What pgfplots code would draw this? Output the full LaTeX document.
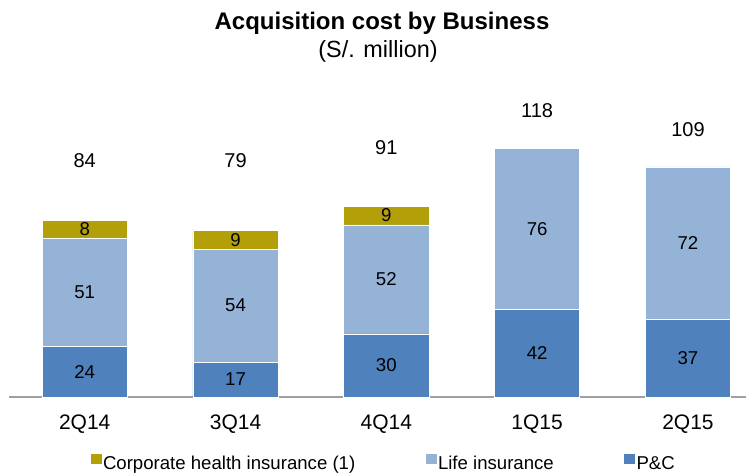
\documentclass[border=0pt]{standalone}
\usepackage{fontspec}
\setmainfont{Liberation Sans}
\usepackage{pgfplots}
\usepackage{pgfplotstable}
\pgfplotsset{compat=1.18}
\definecolor{pc}{RGB}{79,129,189}
\definecolor{life}{RGB}{149,179,215}
\definecolor{corp}{RGB}{179,160,8}
\pgfplotstableread{
x y
0 23.9
1 16.6
2 29.9
3 41.6
4 37.0
}\pcdata
\pgfplotstableread{
x y
0 51.4
1 53.6
2 51.7
3 76.4
4 72.2
}\lifedata
\pgfplotstableread{
x y
0 8.4
1 8.7
2 9.0
}\corpdata
\pgfplotsset{
  seglab/.style={
  nodes near coords={\pgfmathprintnumber[fixed,precision=0]{\pgfplotspointmeta}},
  point meta=explicit,
  every node near coord/.append style={anchor=center, font=\fontsize{18.6}{22}\selectfont},
}}
\begin{document}
\begin{tikzpicture}[x=1pt,y=1pt]
\begin{axis}[
  at={(9.3pt,77pt)}, anchor=south west,
  scale only axis, width=736.7pt, height=295.12pt,
  xmin=-0.5, xmax=4.385, ymin=0, ymax=140,
  clip=false,
  /pgf/number format/assume math mode=true,
  ybar stacked, bar width=85.3pt,
  axis x line*=bottom, axis y line=none,
  x axis line style={draw={rgb,255:red,160;green,160;blue,160}, line width=1.5pt},
  xtick={0,1,2,3,4},
  xticklabels={2Q14,3Q14,4Q14,1Q15,2Q15},
  major tick length=0pt,
  xticklabel style={font=\fontsize{21}{24}\selectfont, inner sep=0pt, yshift=-18pt},
  ytick=\empty,
  legend columns=3,
  legend style={at={(axis description cs:0.508,-0.2237)}, anchor=center, draw=none,
    font=\fontsize{18.6}{22}\selectfont,
    nodes={inner sep=1.5pt},
    /tikz/every even column/.append style={column sep=69pt}},
  legend image code/.code={\fill[#1,draw=none] (0pt,0pt) rectangle (10.7pt,10pt);},
]
\addlegendimage{fill=corp}
\addlegendentry{Corporate health insurance (1)}
\addlegendimage{fill=life}
\addlegendentry{Life insurance}
\addlegendimage{fill=pc}
\addlegendentry{P\&C}
\addplot[forget plot, fill=pc, draw=white, line width=0.6pt, seglab] table[x=x,y=y,meta=y]{\pcdata};
\addplot[forget plot, fill=life, draw=white, line width=0.6pt, seglab] table[x=x,y=y,meta=y]{\lifedata};
\addplot[forget plot, fill=corp, draw=white, line width=0.6pt, seglab] table[x=x,y=y,meta=y]{\corpdata};
\node[font=\fontsize{20}{22}\selectfont] at (axis cs:0,112.2) {84};
\node[font=\fontsize{20}{22}\selectfont] at (axis cs:1,112.2) {79};
\node[font=\fontsize{20}{22}\selectfont] at (axis cs:2,118.4) {91};
\node[font=\fontsize{20}{22}\selectfont] at (axis cs:3,135.9) {118};
\node[font=\fontsize{20}{22}\selectfont] at (axis cs:4,127.0) {109};
\end{axis}
\node[anchor=base, font=\bfseries\fontsize{24}{26}\selectfont] at (382pt,444pt) {Acquisition cost by Business};
\node[anchor=base, font=\fontsize{23.4}{26}\selectfont] at (378pt,416.5pt) {(S/. million)};
\pgfresetboundingbox
\path (0pt,0pt) rectangle (746pt,474pt);
\end{tikzpicture}
\end{document}
